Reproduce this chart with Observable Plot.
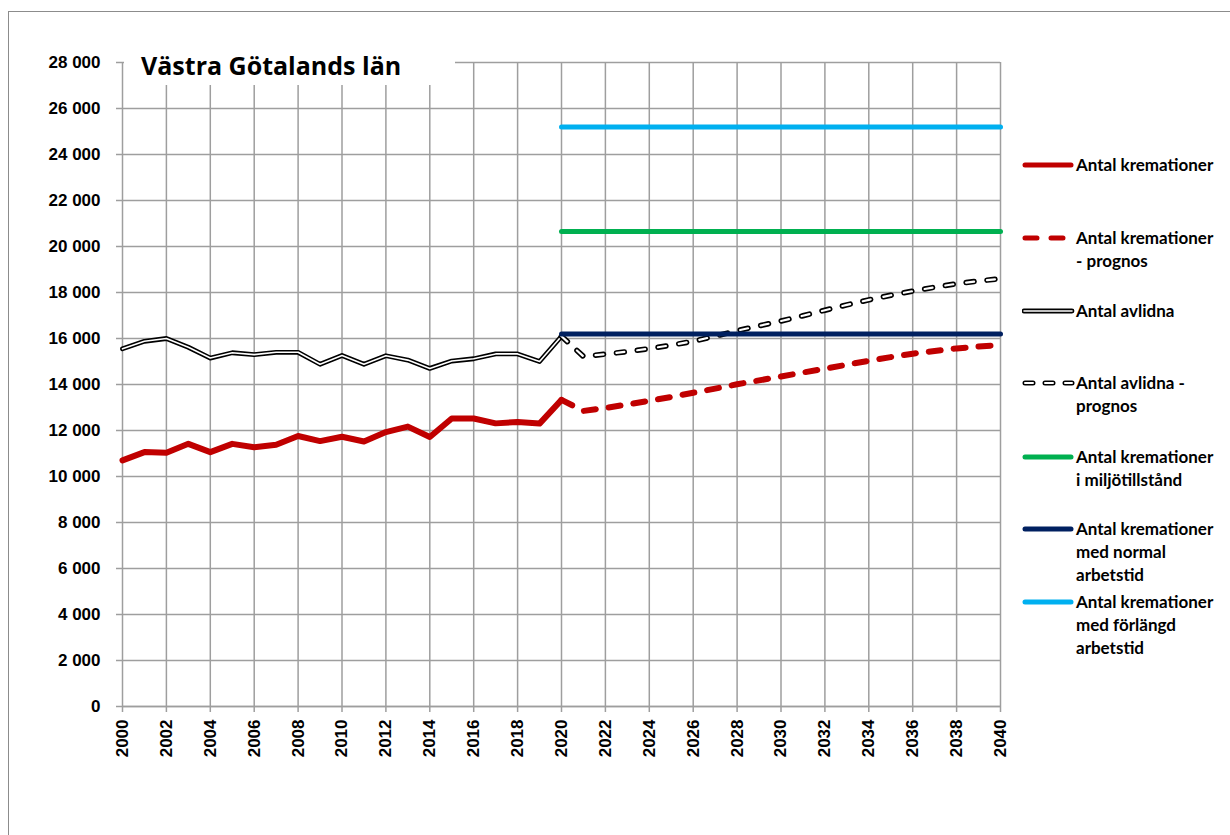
<!DOCTYPE html>
<html>
<head>
<meta charset="utf-8">
<script src="https://cdn.jsdelivr.net/npm/d3@7"></script>
<script src="https://cdn.jsdelivr.net/npm/@observablehq/plot@0.6"></script>
<style>
  html, body { margin: 0; padding: 0; background: #fff; }
  #wrap { position: relative; width: 1230px; height: 835px; overflow: hidden; }
  #frame { position: absolute; left: 8px; top: 11px; width: 1400px; height: 1000px; border-left: 1.5px solid #8c8c8c; border-top: 1.5px solid #8c8c8c; }
  #chart { position: absolute; left: 0; top: 0; }
  #titlebox { position: absolute; left: 124px; top: 38px; width: 331px; height: 47px; background: #fff; }
  #title { position: absolute; left: 141px; top: 48px; font: bold 25px "Open Sans", Lato, sans-serif; color: #000; white-space: nowrap; }
  .leg { position: absolute; left: 1022px; font: bold 17px Lato, "Open Sans", sans-serif; color: #000; line-height: 23px; }
  .leg svg { position: absolute; left: 0; top: 0; }
  .leg span { position: absolute; left: 54px; top: 0; white-space: nowrap; }
</style>
</head>
<body>
<div id="wrap">
  <div id="frame"></div>
  <div id="chart"></div>
  <div id="titlebox"></div>
  <div id="title"></div>
  <div id="legend"></div>
</div>
<script>
// ---- data ----
const title = "Västra Götalands län";
const histYears = [2000,2001,2002,2003,2004,2005,2006,2007,2008,2009,2010,2011,2012,2013,2014,2015,2016,2017,2018,2019,2020];
const cremations = [10700,11060,11030,11420,11060,11420,11270,11380,11760,11540,11730,11520,11930,12170,11720,12520,12520,12310,12370,12300,13330];
const deaths = [15550,15880,16000,15620,15150,15380,15300,15400,15400,14880,15260,14880,15250,15060,14700,15020,15120,15330,15330,15000,16100];
const progYears = [2020,2021,2022,2023,2024,2025,2026,2027,2028,2029,2030,2031,2032,2033,2034,2035,2036,2037,2038,2039,2040];
const cremationsProg = [13330,12850,12980,13130,13290,13460,13640,13820,14010,14180,14350,14520,14690,14860,15030,15190,15340,15460,15570,15650,15720];
const deathsProg = [16100,15220,15320,15430,15560,15710,15880,16100,16340,16550,16760,16990,17230,17460,17680,17880,18060,18230,18380,18500,18600];
const capYears = [2020, 2040];
const capEnvironment = 20650;   // i miljötillstånd
const capNormal = 16200;        // med normal arbetstid
const capExtended = 25200;      // med förlängd arbetstid
const xTicks = [2000,2002,2004,2006,2008,2010,2012,2014,2016,2018,2020,2022,2024,2026,2028,2030,2032,2034,2036,2038,2040];
const yTicks = [0,2000,4000,6000,8000,10000,12000,14000,16000,18000,20000,22000,24000,26000,28000];
const legendLabels = [
  "Antal kremationer",
  "Antal kremationer<br>- prognos",
  "Antal avlidna",
  "Antal avlidna -<br>prognos",
  "Antal kremationer<br>i miljötillstånd",
  "Antal kremationer<br>med normal<br>arbetstid",
  "Antal kremationer<br>med förlängd<br>arbetstid"
];
const colors = { red: "#C00000", green: "#00B050", navy: "#002060", sky: "#00B0F0", black: "#000" };

// ---- tables ----
const hist = histYears.map((year, i) => ({year, crem: cremations[i], dead: deaths[i]}));
const prog = progYears.map((year, i) => ({year, crem: cremationsProg[i], dead: deathsProg[i]}));
const cap = (v) => capYears.map(year => ({year, v}));

const grid = "#9e9e9e";
const fmt = d => d3.format(",")(d).replace(/,/g, " ");

const chart = Plot.plot({
  width: 1230,
  height: 835,
  marginLeft: 122,
  marginRight: 230,
  marginTop: 62,
  marginBottom: 129,
  style: { fontFamily: "'Liberation Sans', Arial, sans-serif", fontSize: "17px", fontWeight: "bold", background: "transparent", color: "#000" },
  x: { domain: [2000, 2040] },
  y: { domain: [0, 28000] },
  marks: [
    Plot.gridY(yTicks, { stroke: grid, strokeOpacity: 1, strokeWidth: 1.5 }),
    Plot.gridX(xTicks, { stroke: grid, strokeOpacity: 1, strokeWidth: 1.5 }),
    Plot.axisY(yTicks, { tickFormat: fmt, tickSize: 6, tickPadding: 16, stroke: grid, strokeWidth: 1.5, label: null }),
    Plot.axisX(xTicks, { tickFormat: d => String(d), tickRotate: -90, tickSize: 6, tickPadding: 7, stroke: grid, strokeWidth: 1.5, label: null }),
    Plot.ruleY([0], { stroke: grid, strokeWidth: 1.5 }),
    // capacities
    Plot.line(cap(capExtended), { x: "year", y: "v", stroke: colors.sky, strokeWidth: 5 }),
    Plot.line(cap(capEnvironment), { x: "year", y: "v", stroke: colors.green, strokeWidth: 5 }),
    // deaths (double line)
    Plot.line(hist, { x: "year", y: "dead", stroke: colors.black, strokeWidth: 4.8 }),
    Plot.line(hist, { x: "year", y: "dead", stroke: "#fff", strokeWidth: 1.6 }),
    Plot.line(prog, { x: "year", y: "dead", stroke: colors.black, strokeWidth: 5.5, strokeDasharray: "8,13", strokeLinecap: "round" }),
    Plot.line(prog, { x: "year", y: "dead", stroke: "#fff", strokeWidth: 2.2, strokeDasharray: "8,13", strokeLinecap: "round" }),
    Plot.line(cap(capNormal), { x: "year", y: "v", stroke: colors.navy, strokeWidth: 5 }),
    // cremations
    Plot.line(hist, { x: "year", y: "crem", stroke: colors.red, strokeWidth: 6 }),
    Plot.line(prog, { x: "year", y: "crem", stroke: colors.red, strokeWidth: 6, strokeDasharray: "12,13", strokeLinecap: "round" })
  ]
});
document.getElementById("chart").appendChild(chart);
document.getElementById("title").textContent = title;

// ---- legend ----
const legendTops = [153, 226, 299, 371, 445, 517, 590];
const swatch = [
  `<line x1="3" y1="12" x2="49" y2="12" stroke="${colors.red}" stroke-width="5" stroke-linecap="round"/>`,
  `<line x1="3" y1="12" x2="50" y2="12" stroke="${colors.red}" stroke-width="5" stroke-linecap="round" stroke-dasharray="12,14"/>`,
  `<line x1="2" y1="12" x2="50" y2="12" stroke="#000" stroke-width="4.8" stroke-linecap="round"/><line x1="2" y1="12" x2="50" y2="12" stroke="#fff" stroke-width="1.6" stroke-linecap="round"/>`,
  `<line x1="3" y1="12" x2="50" y2="12" stroke="#000" stroke-width="5" stroke-linecap="round" stroke-dasharray="8,12"/><line x1="3" y1="12" x2="50" y2="12" stroke="#fff" stroke-width="2" stroke-linecap="round" stroke-dasharray="8,12"/>`,
  `<line x1="3" y1="12" x2="49" y2="12" stroke="${colors.green}" stroke-width="5" stroke-linecap="round"/>`,
  `<line x1="3" y1="12" x2="49" y2="12" stroke="${colors.navy}" stroke-width="5" stroke-linecap="round"/>`,
  `<line x1="3" y1="12" x2="49" y2="12" stroke="${colors.sky}" stroke-width="5" stroke-linecap="round"/>`
];
const legend = document.getElementById("legend");
legendLabels.forEach((lab, i) => {
  const d = document.createElement("div");
  d.className = "leg";
  d.style.top = legendTops[i] + "px";
  d.innerHTML = `<svg width="54" height="24">${swatch[i]}</svg><span>${lab}</span>`;
  legend.appendChild(d);
});
</script>
</body>
</html>
